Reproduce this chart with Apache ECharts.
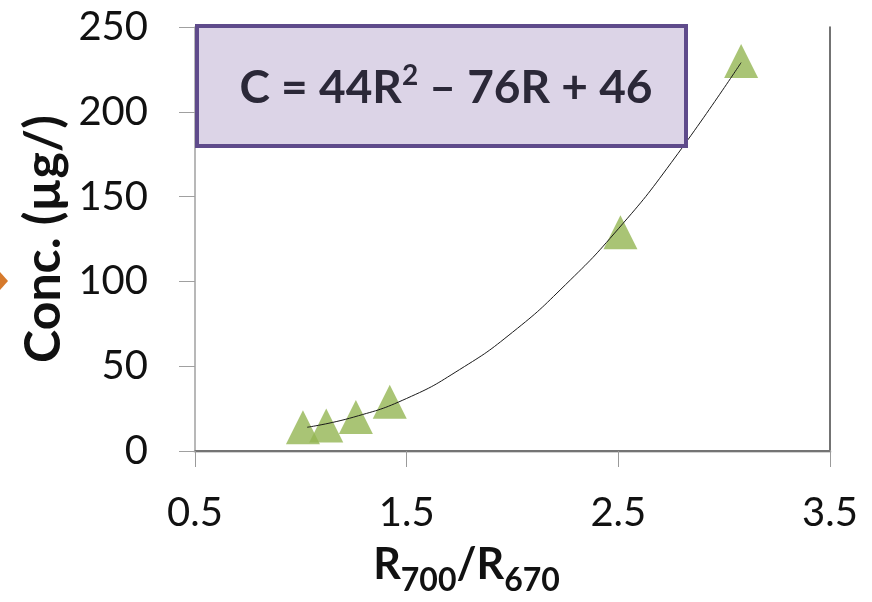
<!DOCTYPE html>
<html>
<head>
<meta charset="utf-8">
<script src="https://cdn.jsdelivr.net/npm/echarts@6/dist/echarts.min.js"></script>
<style>
html,body{margin:0;padding:0;background:#fff;}
#c{width:872px;height:602px;}
</style>
</head>
<body>
<div id="c"></div>
<script>
// Measured points (R700/R670 ratio, concentration)
var ratioValues = [1.01, 1.12, 1.26, 1.42, 2.51, 3.08];
var concValues = [14, 15, 20, 29, 129, 230];
// Trendline
var trendX = [1.03, 1.25, 1.5, 1.75, 2.0, 2.25, 2.5, 2.75, 3.08];
var trendY = [14, 20, 31, 48, 70, 98, 131, 170, 229];
// Tick labels
var xTicks = [0.5, 1.5, 2.5, 3.5];
var yTicks = [0, 50, 100, 150, 200, 250];

var FONT = 'Lato, "Open Sans", sans-serif';
var chart = echarts.init(document.getElementById('c'), null, {renderer: 'canvas'});

var points = ratioValues.map(function (r, i) { return [r, concValues[i]]; });
var trend = trendX.map(function (r, i) { return [r, trendY[i]]; });

chart.setOption({
  backgroundColor: '#ffffff',
  animation: false,
  grid: {left: 195, right: 42, top: 27, bottom: 151, containLabel: false, outerBoundsMode: 'none'},
  xAxis: [{
    type: 'value', min: 0.5, max: 3.5, position: 'bottom',
    name: '{r|R}{s|700}{r|/R}{s|670}',
    nameLocation: 'middle', nameGap: 93, nameMoveOverlap: false,
    nameTextStyle: {
      fontFamily: FONT, color: '#111',
      padding: [0, 92, 0, 0],
      rich: {
        r: {fontSize: 43, fontWeight: 'bold', fontFamily: FONT, color: '#111', lineHeight: 53, verticalAlign: 'top'},
        s: {fontSize: 32, fontWeight: 'bold', fontFamily: FONT, color: '#111', lineHeight: 53, verticalAlign: 'bottom'}
      }
    },
    axisLine: {show: true, lineStyle: {color: '#d2d2d2', width: 3}},
    axisTick: {show: true, length: 16, lineStyle: {color: '#9a9a9a', width: 1}, customValues: xTicks},
    axisLabel: {fontSize: 40, fontFamily: FONT, color: '#111', margin: 42, customValues: xTicks,
      formatter: function (v) { return v.toFixed(1); }},
    splitLine: {show: false}
  }, {
    type: 'value', min: 0.5, max: 3.5, position: 'top',
    axisLine: {show: true, lineStyle: {color: '#555', width: 1.5}},
    axisTick: {show: false}, axisLabel: {show: false}, splitLine: {show: false}
  }],
  yAxis: [{
    type: 'value', min: 0, max: 250, interval: 50, position: 'left',
    name: 'Conc. (µg/)', nameLocation: 'middle', nameGap: 126, nameRotate: 90, nameMoveOverlap: false,
    nameTextStyle: {fontSize: 50, fontWeight: 'bold', fontFamily: FONT, color: '#111'},
    axisLine: {show: true, lineStyle: {color: '#a0a0a0', width: 1.5}},
    axisTick: {show: true, length: 16, lineStyle: {color: '#a0a0a0', width: 1}},
    axisLabel: {fontSize: 40, fontFamily: FONT, color: '#111', margin: 47},
    splitLine: {show: false}
  }, {
    type: 'value', min: 0, max: 250, interval: 50, position: 'right',
    axisLine: {show: true, lineStyle: {color: '#444', width: 1.5}},
    axisTick: {show: false}, axisLabel: {show: false}, splitLine: {show: false}
  }],
  series: [{
    type: 'scatter', data: points, symbol: 'triangle', symbolSize: [34, 34],
    itemStyle: {color: '#94b553'}, z: 2
  }, {
    type: 'line', data: trend, smooth: true, symbol: 'none',
    lineStyle: {color: '#1a1a1a', width: 1}, z: 3
  }],
  graphic: [{
    type: 'rect', z: 100,
    shape: {x: 197, y: 26, width: 489, height: 120},
    style: {fill: '#dcd4e7', stroke: '#5f4b8b', lineWidth: 4}
  }, {
    type: 'text', z: 101, x: 446, y: 88,
    style: {
      text: '{t|C = 44R}{sup|2}{t| – 76R + 46}',
      align: 'center', verticalAlign: 'middle',
      rich: {
        t: {fontSize: 46, fontWeight: 'bold', fontFamily: FONT, fill: '#2b2838', lineHeight: 52},
        sup: {fontSize: 28, fontWeight: 'bold', fontFamily: FONT, fill: '#2b2838', lineHeight: 52, verticalAlign: 'top', padding: [0, 0, 12, 0]}
      }
    }
  }, {
    type: 'polygon', z: 100,
    shape: {points: [[-8, 281], [0, 272], [8, 281], [0, 290]]},
    style: {fill: '#d67a2c'}
  }]
});
</script>
</body>
</html>
